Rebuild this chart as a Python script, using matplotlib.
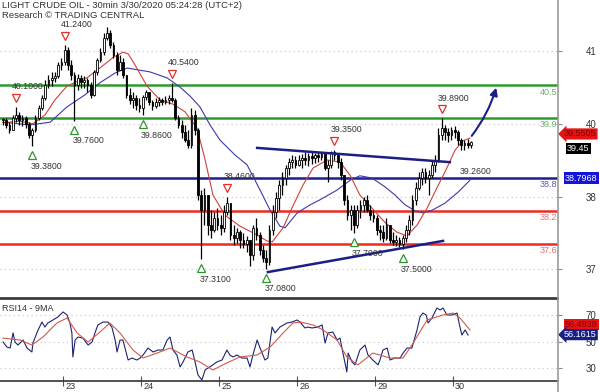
import numpy as np
import matplotlib
matplotlib.use('Agg')
import matplotlib.pyplot as plt
import matplotlib.transforms as mtransforms
from matplotlib.lines import Line2D
from matplotlib.patches import Rectangle

plt.rcParams['font.family'] = ['Liberation Sans', 'DejaVu Sans']

# hourly bars, x = hours from the first bar
high = [39.90, 39.90, 39.82, 39.95, 40.10, 40.01, 39.95, 39.93, 39.82, 39.71,
        39.95, 40.13, 40.32, 40.59, 40.68, 40.74, 40.74, 40.92, 41.00, 41.24,
        41.19, 40.96, 40.74, 40.70, 40.68, 40.66, 40.63, 40.55, 40.77, 41.00,
        41.18, 41.45, 41.56, 41.51, 41.29, 41.10, 41.05, 41.00, 40.68, 40.45,
        40.37, 40.32, 40.26, 40.32, 40.41, 40.37, 40.23, 40.26, 40.28, 40.26,
        40.30, 40.32, 40.54, 40.26, 39.95, 39.86, 39.77, 39.68, 40.08, 40.04,
        39.71, 38.58, 38.62, 38.49, 38.21, 38.18, 38.25, 38.12, 38.31, 38.46,
        38.31, 37.94, 37.89, 37.85, 37.79, 37.74, 37.67, 37.94, 38.07, 37.81,
        37.57, 37.48, 37.94, 38.31, 38.54, 38.76, 38.91, 39.04, 39.17, 39.22,
        39.20, 39.22, 39.24, 39.28, 39.26, 39.28, 39.26, 39.28, 39.28, 39.28,
        39.13, 39.30, 39.32, 39.22, 39.17, 38.85, 38.49, 38.31, 38.31, 38.31,
        38.40, 38.45, 38.49, 38.31, 38.21, 38.12, 37.94, 37.94, 38.07, 37.89,
        37.81, 37.76, 37.72, 37.76, 37.94, 38.12, 38.49, 38.73, 38.91, 38.98,
        38.98, 38.95, 39.13, 39.22, 39.71, 39.89, 39.77, 39.71, 39.73, 39.75,
        39.68, 39.53, 39.49, 39.51, 39.48]
low = [39.77, 39.71, 39.62, 39.68, 39.82, 39.77, 39.75, 39.71, 39.53, 39.38,
       39.64, 39.86, 40.04, 40.23, 40.45, 40.48, 40.55, 40.63, 40.77, 40.87,
       40.77, 40.59, 39.85, 40.41, 40.45, 40.45, 40.37, 40.26, 40.30, 40.68,
       40.92, 41.05, 41.32, 41.18, 41.00, 40.68, 40.77, 40.63, 40.26, 40.15,
       40.08, 40.04, 40.01, 39.95, 40.23, 40.13, 40.04, 40.08, 40.12, 40.13,
       40.15, 40.15, 40.19, 39.86, 39.71, 39.53, 39.46, 39.35, 39.35, 39.59,
       38.40, 37.31, 37.94, 37.76, 37.70, 37.81, 37.85, 37.76, 37.81, 38.12,
       37.67, 37.57, 37.61, 37.52, 37.52, 37.45, 37.20, 37.30, 37.67, 37.39,
       37.26, 37.14, 37.21, 37.76, 38.07, 38.21, 38.49, 38.67, 38.85, 38.98,
       38.98, 39.02, 38.98, 39.04, 39.02, 39.06, 39.07, 39.09, 39.13, 38.95,
       38.73, 38.98, 39.13, 38.98, 38.76, 38.31, 38.03, 37.85, 37.79, 37.89,
       38.07, 38.18, 38.18, 38.03, 37.99, 37.76, 37.67, 37.63, 37.67, 37.61,
       37.57, 37.56, 37.54, 37.50, 37.63, 37.76, 37.94, 38.31, 38.58, 38.67,
       38.71, 38.49, 38.80, 38.91, 39.09, 39.49, 39.49, 39.46, 39.49, 39.53,
       39.40, 39.31, 39.31, 39.35, 39.35]
close = [39.86, 39.77, 39.68, 39.90, 39.95, 39.86, 39.90, 39.79, 39.59, 39.68,
         39.90, 40.08, 40.26, 40.50, 40.59, 40.63, 40.66, 40.87, 40.92, 41.14,
         40.87, 40.68, 40.50, 40.63, 40.55, 40.59, 40.50, 40.32, 40.74, 40.96,
         41.10, 41.36, 41.45, 41.23, 41.05, 40.77, 40.92, 40.68, 40.32, 40.23,
         40.26, 40.13, 40.08, 40.28, 40.37, 40.19, 40.12, 40.19, 40.23, 40.19,
         40.23, 40.26, 40.23, 39.90, 39.77, 39.64, 39.49, 39.40, 39.95, 39.68,
         38.49, 38.21, 38.49, 37.94, 37.85, 38.07, 37.94, 37.89, 38.18, 38.34,
         37.76, 37.70, 37.81, 37.67, 37.59, 37.67, 37.39, 37.89, 37.76, 37.48,
         37.34, 37.26, 37.85, 38.18, 38.43, 38.67, 38.80, 38.98, 39.09, 39.13,
         39.04, 39.13, 39.17, 39.13, 39.20, 39.17, 39.22, 39.18, 39.26, 38.98,
         39.04, 39.28, 39.22, 39.09, 38.85, 38.40, 38.12, 38.21, 37.94, 38.21,
         38.31, 38.40, 38.21, 38.12, 38.07, 37.85, 37.81, 37.70, 37.94, 37.67,
         37.63, 37.67, 37.59, 37.70, 37.85, 38.03, 38.40, 38.62, 38.80, 38.91,
         38.80, 38.85, 39.04, 39.13, 39.59, 39.71, 39.64, 39.59, 39.68, 39.64,
         39.49, 39.40, 39.44, 39.40, 39.45]

# moving averages (hour, price)
ma_fast_x = [0.0, 5.2, 9.2, 12.9, 16.0, 19.7, 23.7, 25.8, 29.8, 33.8, 36.9, 38.5,
             40.6, 44.3, 48.3, 52.3, 56.0, 59.7, 62.2, 64.6, 68.3, 72.9, 77.5,
             81.2, 82.8, 86.2, 88.9, 92.3, 95.4, 99.7, 103.7, 106.8, 109.8,
             113.5, 117.5, 121.2, 124.3, 127.4, 130.5, 133.5, 136.0, 139.1,
             141.5, 143.7]
ma_fast = [39.81, 39.84, 39.79, 39.95, 40.23, 40.48, 40.59, 40.63, 40.81, 41.00,
           41.10, 41.07, 40.87, 40.48, 40.23, 40.15, 40.01, 39.71, 39.13, 38.49,
           38.12, 37.92, 37.78, 37.65, 37.63, 37.89, 38.25, 38.67, 38.98, 39.13,
           39.09, 38.85, 38.49, 38.25, 37.99, 37.81, 37.74, 37.94, 38.25, 38.62,
           38.91, 39.31, 39.48, 39.53]
ma_slow_x = [0.0, 8.3, 14.5, 19.7, 25.2, 29.8, 34.5, 38.2, 42.2, 45.2, 50.5, 54.5,
             57.5, 60.6, 63.7, 66.8, 71.4, 75.1, 79.1, 82.2, 85.2, 86.8, 90.5,
             94.5, 97.5, 102.8, 106.8, 109.8, 113.5, 117.5, 120.6, 123.7, 126.8,
             129.2, 132.0, 136.0, 140.0, 143.7]
ma_slow = [39.82, 39.77, 39.82, 40.10, 40.32, 40.54, 40.72, 40.81, 40.77, 40.74,
           40.63, 40.46, 40.30, 40.10, 39.77, 39.49, 39.22, 39.04, 38.58, 38.21,
           37.92, 37.89, 38.16, 38.31, 38.40, 38.58, 38.76, 38.84, 38.80, 38.64,
           38.49, 38.31, 38.20, 38.16, 38.21, 38.34, 38.54, 38.76]

# RSI14 and its 9MA (hour, value)
rsi_x = [0.0, 1.2, 2.2, 3.1, 3.7, 4.6, 6.2, 7.4, 8.9, 9.2, 10.8, 12.0, 12.9, 13.8,
         15.4, 16.9, 18.5, 19.7, 20.6, 21.2, 21.5, 22.2, 23.1, 24.6, 26.2, 27.4,
         28.3, 29.2, 30.8, 32.3, 33.5, 34.5, 35.1, 36.0, 36.9, 38.5, 39.7, 41.2,
         42.2, 43.1, 44.6, 46.2, 47.7, 49.2, 50.5, 51.4, 52.3, 53.5, 54.5, 55.4,
         56.9, 58.2, 59.1, 60.0, 61.2, 62.2, 63.1, 64.6, 65.8, 67.4, 68.9, 69.8,
         70.8, 72.0, 73.5, 75.1, 76.0, 76.9, 78.2, 79.1, 80.6, 81.5, 82.8, 83.7,
         85.2, 87.4, 88.9, 90.5, 91.4, 92.9, 93.8, 95.1, 96.9, 98.2, 99.1, 100.0,
         101.5, 102.8, 103.7, 104.6, 105.8, 106.2, 107.4, 108.3, 109.8, 111.4,
         112.3, 113.8, 115.4, 116.0, 116.9, 118.2, 119.1, 120.6, 122.2, 123.1,
         124.3, 125.8, 127.4, 128.3, 129.2, 130.2, 130.8, 132.0, 133.5, 134.5,
         135.4, 136.6, 138.2, 139.7, 140.6, 141.2, 142.2, 143.1]
rsi = [49.8, 46.0, 45.2, 56.7, 49.8, 47.5, 51.3, 45.2, 42.2, 49.0, 59.0, 65.0,
       61.2, 64.3, 66.6, 68.9, 72.7, 70.4, 64.3, 56.7, 38.4, 51.3, 53.6, 52.8,
       47.5, 49.8, 56.7, 62.8, 65.0, 65.0, 61.2, 51.3, 42.2, 51.3, 51.3, 36.1,
       37.6, 36.1, 37.6, 39.9, 45.2, 42.2, 43.7, 43.7, 51.3, 53.6, 43.7, 39.9,
       30.8, 34.6, 42.2, 43.7, 34.6, 24.7, 20.9, 28.5, 30.0, 32.4, 34.6, 36.1,
       43.7, 39.9, 38.4, 39.9, 37.6, 37.6, 30.8, 39.9, 51.3, 45.2, 36.1, 37.6,
       61.2, 56.7, 61.2, 64.3, 65.0, 66.6, 65.0, 60.5, 61.2, 60.5, 61.2, 62.8,
       49.0, 56.7, 57.4, 51.3, 52.8, 41.4, 27.0, 41.4, 34.6, 32.4, 43.7, 47.5,
       39.9, 36.1, 32.4, 36.1, 43.7, 45.2, 36.1, 37.6, 37.6, 41.4, 45.2, 45.2,
       59.0, 68.9, 71.9, 70.4, 64.3, 68.1, 75.7, 74.2, 75.7, 70.4, 70.4, 71.9,
       61.2, 55.1, 59.0, 55.1]
rsi_ma_x = [0.0, 5.2, 8.9, 12.3, 16.6, 19.7, 22.8, 26.2, 29.8, 32.9, 36.0, 40.0,
            43.1, 47.4, 51.4, 56.6, 60.6, 64.6, 68.9, 72.9, 78.2, 82.2, 86.2,
            89.2, 91.4, 95.4, 98.5, 102.8, 105.8, 109.2, 113.8, 119.1, 123.1,
            126.2, 130.5, 135.4, 138.5, 140.6, 143.7]
rsi_ma = [52.8, 51.3, 47.5, 53.6, 64.3, 68.1, 56.7, 49.8, 57.4, 64.3, 56.7, 43.7,
          37.6, 41.4, 45.2, 38.4, 34.6, 28.5, 33.9, 38.4, 39.9, 46.0, 56.7, 64.3,
          65.0, 62.8, 59.0, 51.3, 38.4, 32.4, 41.4, 37.6, 37.6, 49.0, 66.6, 70.4,
          71.9, 68.1, 59.0]

levels = [40.5, 39.9, 38.8, 38.2, 37.6]
level_labels = ['40.5', '39.9', '38.8', '38.2', '37.6']
level_colors = ['#2f9a2f', '#2f9a2f', '#1c1f8f', '#ee2b22', '#ee2b22']
level_text_colors = ['#6fb06f', '#6fb06f', '#5a5aaa', '#e37070', '#e37070']

pivot_highs = [(4, '40.1000'), (19, '41.2400'), (52, '40.5400'), (69, '38.4600'),
               (102, '39.3500'), (135, '39.8900')]
pivot_lows = [(9, '39.3800'), (22, '39.7600'), (43, '39.8600'), (61, '37.3100'),
              (81, '37.0800'), (108, '37.7900'), (123, '37.5000')]

trend_upper = ([78.2, 137.5], [39.35, 39.09])
trend_lower = ([81.5, 135.4], [37.08, 37.65])
arrow_from = (143.7, 39.53)
arrow_to = (152.0, 40.50)

price_ticks = [41.12, 39.79, 38.45, 37.14]
price_tick_labels = ['41', '40', '38', '37']
rsi_ticks = [70, 50, 30]
day_ticks = [18.5, 42.5, 66.5, 90.5, 114.5, 138.5]
day_labels = ['23', '24', '25', '26', '29', '30']

fig = plt.figure(figsize=(6, 3.92), dpi=100)
ax = fig.add_axes([0, 1 - 298 / 392, 0.93, 298 / 392])
ax2 = fig.add_axes([0, 11 / 392, 0.93, 82 / 392])

xlim = (-0.92, 170.77)
for a in (ax, ax2):
    a.set_xlim(*xlim)
    a.set_facecolor('white')
    for s in ('left', 'top', 'right'):
        a.spines[s].set_visible(False)
    a.spines['bottom'].set_color('#333333')
    a.spines['bottom'].set_linewidth(1.2)
ax2.spines['top'].set_visible(True)
ax2.spines['top'].set_color('#333333')
ax2.spines['top'].set_linewidth(1.2)

ax.set_ylim(36.606, 42.054)
ax2.set_ylim(20.1, 82.57)

# grid
for t in price_ticks:
    ax.axhline(t, color='#c4c4c4', lw=0.8, ls=(0, (1, 3)), zorder=0)
for t in rsi_ticks:
    ax2.axhline(t, color='#c4c4c4', lw=0.8, ls=(0, (1, 3)), zorder=0)

# horizontal levels
for lv, lab, col, tcol in zip(levels, level_labels, level_colors, level_text_colors):
    ax.axhline(lv, color=col, lw=1.8, zorder=2)
    ax.annotate(lab, xy=(1, lv), xycoords=ax.get_yaxis_transform(),
                xytext=(-1, -7), textcoords='offset pixels', ha='right', va='center',
                fontsize=6.5, color=tcol, annotation_clip=False)

# moving averages
ax.plot(ma_slow_x, ma_slow, color='#3b3ba8', lw=0.8, zorder=3)
ax.plot(ma_fast_x, ma_fast, color='#d0403a', lw=0.8, zorder=3)

# candles
opens = [close[0]] + close[:-1]
for i in range(len(close)):
    o, c = opens[i], close[i]
    lo = min(low[i], o, c)
    hi = max(high[i], o, c)
    ax.vlines(i, lo, hi, color='black', lw=0.9, zorder=4)
    b0, b1 = min(o, c), max(o, c)
    face = 'black' if c < o else 'white'
    ax.add_patch(Rectangle((i - 0.3, b0), 0.6, max(b1 - b0, 0.01),
                           facecolor=face, edgecolor='black', lw=0.6, zorder=5))

# trend lines and arrow
ax.plot(*trend_upper, color='#1a1f86', lw=1.8, zorder=6)
ax.plot(*trend_lower, color='#1a1f86', lw=1.8, zorder=6)
ax.annotate('', xy=arrow_to, xytext=arrow_from,
            arrowprops=dict(arrowstyle='-|>', color='#1a1f86', lw=1.5,
                            mutation_scale=11, connectionstyle='arc3,rad=0.1'),
            zorder=6)

# pivots
up_m = mtransforms.offset_copy(ax.transData, fig=fig, x=0, y=9, units='dots')
up_t = mtransforms.offset_copy(ax.transData, fig=fig, x=-4, y=20, units='dots')
dn_m = mtransforms.offset_copy(ax.transData, fig=fig, x=0, y=-9, units='dots')
dn_t = mtransforms.offset_copy(ax.transData, fig=fig, x=-2, y=-20, units='dots')
for i, lab in pivot_highs:
    ax.plot(i, high[i], marker='v', ms=5.5, mfc='white', mec='#e0302a', mew=0.9,
            transform=up_m, zorder=7, clip_on=False)
    ax.text(i, high[i], lab, transform=up_t, ha='left', va='center', fontsize=6.3,
            color='#333333', zorder=7)
for i, lab in pivot_lows:
    ax.plot(i, low[i], marker='^', ms=5.5, mfc='white', mec='#2f962f', mew=0.9,
            transform=dn_m, zorder=7, clip_on=False)
    ax.text(i, low[i], lab, transform=dn_t, ha='left', va='center', fontsize=6.3,
            color='#333333', zorder=7)
ax.annotate('39.2600', xy=(ma_slow_x[-1], ma_slow[-1]), xytext=(-10, 9),
            textcoords='offset pixels', ha='left', va='center', fontsize=6.3,
            color='#333333')

# RSI
ax2.plot(rsi_x, rsi, color='#1c2470', lw=0.8)
ax2.plot(rsi_ma_x, rsi_ma, color='#d45a4a', lw=0.8)
ax2.text(0.004, 0.88, 'RSI14 - 9MA', transform=ax2.transAxes, fontsize=6.5,
         color='#333333', va='center')

# y ticks on right
for a, ticks, labels in ((ax, price_ticks, price_tick_labels),
                         (ax2, rsi_ticks, [str(t) for t in rsi_ticks])):
    a.yaxis.tick_right()
    a.set_yticks(ticks)
    a.set_yticklabels(labels)
    a.tick_params(axis='y', length=3, color='#888888', labelsize=7,
                  labelcolor='#333333', pad=17)
ax.set_xticks([])
ax2.set_xticks(day_ticks)
ax2.set_xticklabels([])
ax2.tick_params(axis='x', direction='inout', length=7, color='#555555')
for t, lab in zip(day_ticks, day_labels):
    ax2.annotate(lab, xy=(t, 0), xycoords=ax2.get_xaxis_transform(),
                 xytext=(2, -1), textcoords='offset pixels', ha='left', va='top',
                 fontsize=6.6, color='#333333', annotation_clip=False)

# value boxes on the right
ytr = ax.get_yaxis_transform()
ax.annotate('39.5505', xy=(1, 39.5505), xycoords=ytr, xytext=(6, 3),
            textcoords='offset pixels', ha='left', va='center', fontsize=6.5,
            color='#8a0000', annotation_clip=False,
            bbox=dict(boxstyle='larrow,pad=0.12', fc='#e41414', ec='none'))
ax.annotate('39.45', xy=(1, 39.45), xycoords=ytr, xytext=(9, -6),
            textcoords='offset pixels', ha='left', va='center', fontsize=6.5,
            color='white', annotation_clip=False,
            bbox=dict(boxstyle='square,pad=0.15', fc='black', ec='none'))
ax.annotate('38.7968', xy=(1, 38.7968), xycoords=ytr, xytext=(7, 0),
            textcoords='offset pixels', ha='left', va='center', fontsize=6.5,
            color='white', annotation_clip=False,
            bbox=dict(boxstyle='square,pad=0.15', fc='#1414d8', ec='none'))
ytr2 = ax2.get_yaxis_transform()
ax2.annotate('56.4938', xy=(1, 56.4938), xycoords=ytr2, xytext=(7, 9),
             textcoords='offset pixels', ha='left', va='center', fontsize=6.5,
             color='#8a0000', annotation_clip=False,
             bbox=dict(boxstyle='square,pad=0.12', fc='#e41414', ec='none'))
ax2.annotate('56.1615', xy=(1, 56.1615), xycoords=ytr2, xytext=(6, -1),
             textcoords='offset pixels', ha='left', va='center', fontsize=6.5,
             color='white', annotation_clip=False,
             bbox=dict(boxstyle='larrow,pad=0.12', fc='#1a1f86', ec='none'))

# right frame line across the whole chart
fig.add_artist(Line2D([0.93, 0.93], [0, 1], color='#9a9a9a', lw=1.2))

fig.text(0.004, 1 - 6 / 392, 'LIGHT CRUDE OIL - 30min 3/30/2020 05:24:28 (UTC+2)',
         fontsize=6.8, color='#333333', va='center')
fig.text(0.004, 1 - 16 / 392, 'Research \u00a9 TRADING CENTRAL', fontsize=6.8,
         color='#333333', va='center')

fig.savefig('out.png', dpi=100)
